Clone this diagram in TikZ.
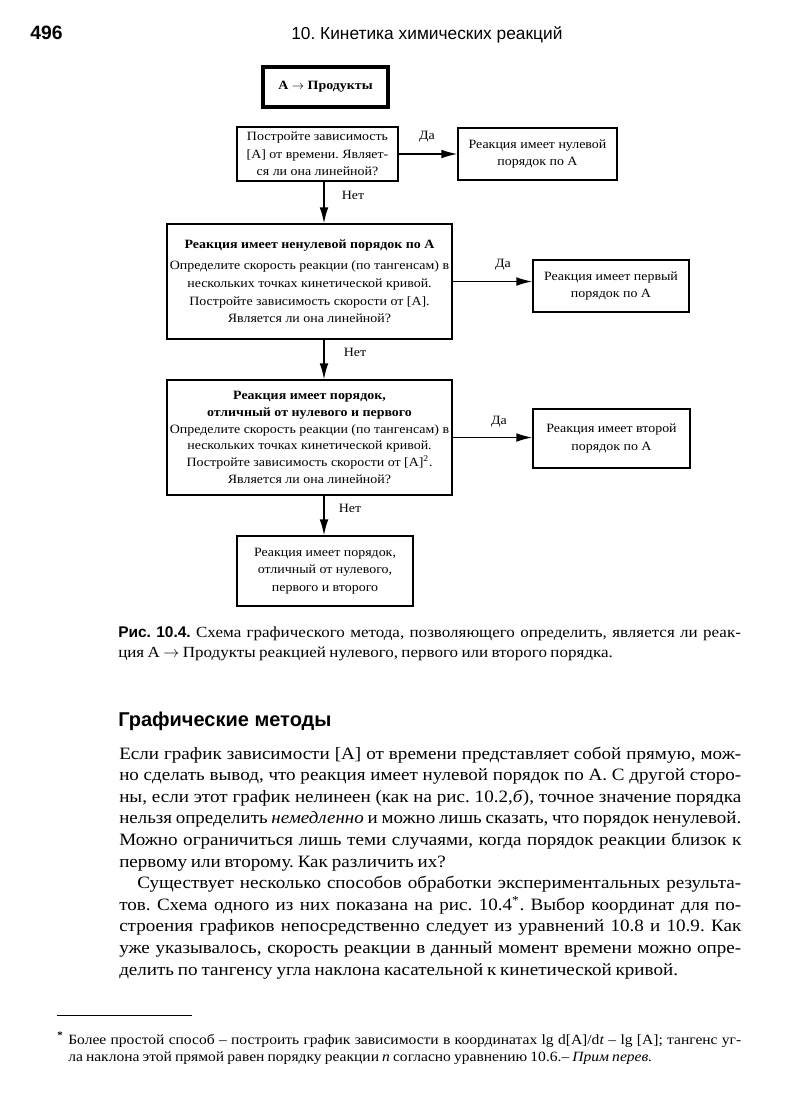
\documentclass[tikz,border=0pt]{standalone}
\usepackage{fontspec}
\usepackage{graphicx}
\setmainfont{Liberation Serif}[FakeStretch=1.1]
\setsansfont{Liberation Sans}
\usetikzlibrary{arrows.meta}
\newcommand\flowf{\fontsize{9.5}{13.2}\selectfont}
\newcommand\bodyf{\fontsize{13}{15}\selectfont\spaceskip=.22em plus 1em minus .05em\relax}
\newcommand\capf{\fontsize{11.6}{13}\selectfont\spaceskip=.22em plus 1em minus .05em\relax}
\newcommand\fnf{\fontsize{10.6}{12}\selectfont\spaceskip=.22em plus 1em minus .05em\relax}
\newcommand\arrowsym{$\rightarrow$}
\newsavebox\lnbox
\newcommand\fitline[2]{\sbox\lnbox{#2}\ifdim\wd\lnbox>#1\relax\scalebox{\fpeval{#1/\the\wd\lnbox}}[1]{\usebox\lnbox}\else\hbox to #1{#2}\fi}
\begin{document}
\frenchspacing
\begin{tikzpicture}[x=0.75pt,y=-0.75pt,
  box/.style={draw, line width=0.85pt, inner sep=0pt, align=center, font=\flowf, rectangle},
  arr/.style={line width=1.2pt, -{Latex[length=12pt,width=6.5pt]}},
  lab/.style={font=\flowf, inner sep=0pt},
  txt/.style={anchor=base west, inner sep=0pt}]
\fill[white] (0,0) rectangle (794,1103);
\useasboundingbox (0,0) rectangle (794,1103);

% running head
\node[txt, font=\sffamily\bfseries\fontsize{14.5}{16}\selectfont] (pg) at (30,39) {496};
\node[txt, font=\sffamily\fontsize{13}{15}\selectfont] (hd) at (291,39) {10. Кинетика химических реакций};

% flowchart
\node[box, line width=2.4pt, minimum width=93.75pt, minimum height=30pt, font=\flowf\bfseries] (start) at (325.5,87) {А \arrowsym{} Продукты};
\node[box, minimum width=120.75pt, minimum height=40.5pt] (q1) at (317.5,154) {Постройте зависимость\\ {[А]} от времени. Являет-\\ ся ли она линейной?};
\node[box, minimum width=119.25pt, minimum height=39pt] (r0) at (537.5,154) {Реакция имеет нулевой\\ порядок по А};
\node[box, minimum width=213.75pt, minimum height=86.25pt] (q2) at (309.5,281.5) {{\bfseries Реакция имеет ненулевой порядок по А}\\[2.5pt] Определите скорость реакции (по тангенсам) в\\ нескольких точках кинетической кривой.\\ Постройте зависимость скорости от {[А]}.\\ Является ли она линейной?};
\node[box, minimum width=117pt, minimum height=39pt] (r1) at (611,286) {Реакция имеет первый\\ порядок по А};
\node[box, minimum width=213.75pt, minimum height=86.25pt, font=\fontsize{9.5}{12.6}\selectfont] (q3) at (309.5,437.5) {{\bfseries Реакция имеет порядок,}\\ {\bfseries отличный от нулевого и первого}\\ Определите скорость реакции (по тангенсам) в\\ нескольких точках кинетической кривой.\\ Постройте зависимость скорости от {[А]}\textsuperscript{2}.\\ Является ли она линейной?};
\node[box, minimum width=117.75pt, minimum height=44.25pt] (r2) at (611.5,438.5) {Реакция имеет второй\\ порядок по А};
\node[box, minimum width=132pt, minimum height=52.5pt] (r3) at (325,571) {Реакция имеет порядок,\\ отличный от нулевого,\\ первого и второго};

\coordinate (vx) at (324,0);
\draw[arr] (q1.east) -- (q1.east -| r0.west);
\draw[arr] (q2.east) -- (q2.east -| r1.west);
\draw[arr] (q3.east) -- (q3.east -| r2.west);
\draw[arr] (q1.south -| vx) -- (q2.north -| vx);
\draw[arr] (q2.south -| vx) -- (q3.north -| vx);
\draw[arr] (q3.south -| vx) -- (r3.north -| vx);

\node[lab] (da1) at (427,137) {Да};
\node[lab] (da2) at (503,265) {Да};
\node[lab] (da3) at (499,422) {Да};
\node[lab] (net1) at (353,195) {Нет};
\node[lab] (net2) at (355,352) {Нет};
\node[lab] (net3) at (350,508) {Нет};

% caption
\node[txt, font=\capf] (cap1) at (118,637) {\fitline{467pt}{{\sffamily\bfseries\fontsize{11.6}{13}\selectfont Рис.~10.4.} Схема графического метода, позволяющего определить, является ли реак-}};
\node[txt, font=\capf] (cap2) at (118,657) {ция А \arrowsym{} Продукты реакцией нулевого, первого или второго порядка.};

% heading
\node[txt, font=\sffamily\bfseries\fontsize{15}{17}\selectfont] (sec) at (118,726) {Графические методы};

% body
\node[txt, font=\bodyf] (b1) at (119,759) {\fitline{466.5pt}{Если график зависимости [А] от времени представляет собой прямую, мож-}};
\node[txt, font=\bodyf] (b2) at (119,780.6) {\fitline{466.5pt}{но сделать вывод, что реакция имеет нулевой порядок по А. С другой сторо-}};
\node[txt, font=\bodyf] (b3) at (119,802.2) {\fitline{466.5pt}{ны, если этот график нелинеен (как на рис. 10.2,\textit{б}), точное значение порядка}};
\node[txt, font=\bodyf] (b4) at (119,823.8) {\fitline{466.5pt}{нельзя определить \textit{немедленно} и можно лишь сказать, что порядок ненулевой.}};
\node[txt, font=\bodyf] (b5) at (119,845.4) {\fitline{466.5pt}{Можно ограничиться лишь теми случаями, когда порядок реакции близок к}};
\node[txt, font=\bodyf] (b6) at (119,867) {первому или второму. Как различить их?};
\node[txt, font=\bodyf] (b7) at (137,888.6) {\fitline{453pt}{Существует несколько способов обработки экспериментальных результа-}};
\node[txt, font=\bodyf] (b8) at (119,910.2) {\fitline{466.5pt}{тов. Схема одного из них показана на рис. 10.4\textsuperscript{*}. Выбор координат для по-}};
\node[txt, font=\bodyf] (b9) at (119,931.8) {\fitline{466.5pt}{строения графиков непосредственно следует из уравнений 10.8 и 10.9. Как}};
\node[txt, font=\bodyf] (b10) at (119,953.4) {\fitline{466.5pt}{уже указывалось, скорость реакции в данный момент времени можно опре-}};
\node[txt, font=\bodyf] (b11) at (119,975) {делить по тангенсу угла наклона касательной к кинетической кривой.};

% footnote
\coordinate (fr1) at (57,1015);
\coordinate (fr2) at (192,1015);
\draw[line width=0.6pt] (fr1) -- (fr2);
\node[txt, font=\fnf\bfseries] (fnm) at (57,1044) {\textsuperscript{*}};
\node[txt, font=\fnf] (fn1) at (68,1044) {\fitline{504.75pt}{Более простой способ – построить график зависимости в координатах lg d[A]/d\textit{t} – lg [A]; тангенс уг-}};
\node[txt, font=\fnf] (fn2) at (68,1061) {ла наклона этой прямой равен порядку реакции \textit{n} согласно уравнению 10.6.– \textit{Прим перев.}};
\end{tikzpicture}
\end{document}
